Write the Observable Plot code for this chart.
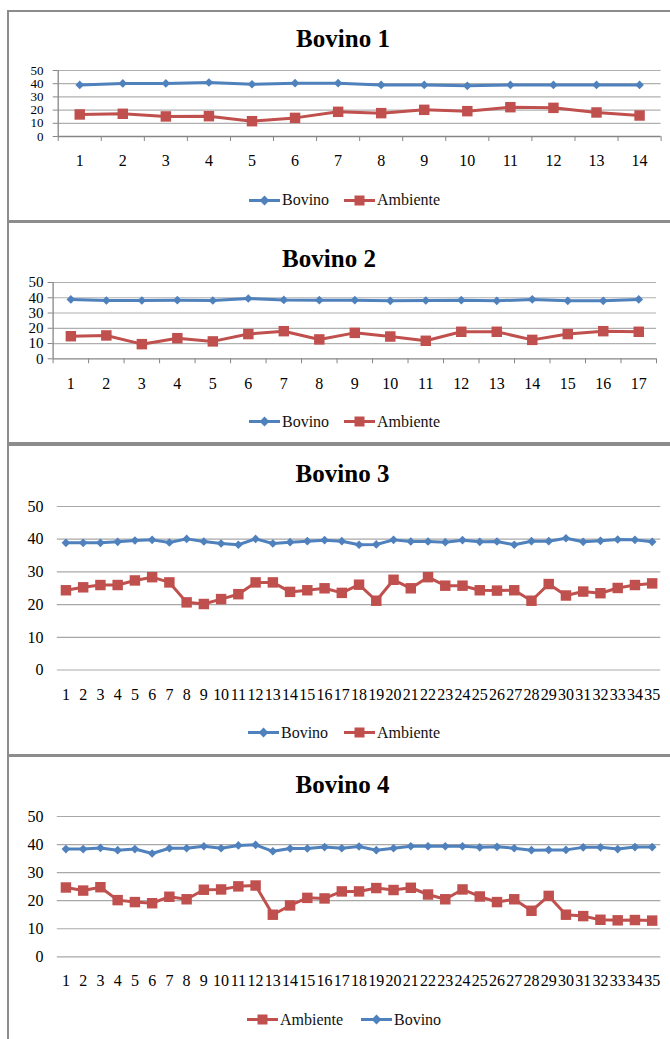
<!DOCTYPE html>
<html><head><meta charset="utf-8">
<script src="https://cdn.jsdelivr.net/npm/d3@7"></script>
<script src="https://cdn.jsdelivr.net/npm/@observablehq/plot@0.6"></script>
<style>
body{margin:0;background:#fff;}
#page{position:relative;width:670px;height:1039px;overflow:hidden;font-family:"Liberation Serif",serif;color:#000;}
.box{position:absolute;left:7px;width:680px;border:2px solid #8c8c8c;box-sizing:border-box;}
.title{position:absolute;font-weight:bold;font-size:25px;line-height:1;transform:translate(-50%,-50%);white-space:nowrap;font-family:"Liberation Serif",serif;}
.legitem{position:absolute;display:flex;align-items:center;font-size:16px;line-height:1;transform:translateY(-50%);white-space:nowrap;color:#111;font-family:"Liberation Serif",serif;}
.legitem svg{margin-right:2px;}
.plot{position:absolute;left:0;}
.plot text{font-family:"Liberation Serif",serif !important;}
</style></head><body><div id="page"></div>
<script>
// ---- data ----
const cats1 = d3.range(1, 15);
const cats2 = d3.range(1, 18);
const cats3 = d3.range(1, 36);
const cats4 = d3.range(1, 36);
const yTicks = [0, 10, 20, 30, 40, 50];

const bovino1   = [39.1, 40.2, 40.2, 40.9, 39.6, 40.4, 40.4, 39.1, 39.1, 38.4, 39.1, 39.1, 39.1, 39.1];
const ambiente1 = [16.7, 17.2, 15.2, 15.4, 11.6, 14.1, 18.7, 17.7, 20.2, 19.2, 22.2, 21.7, 18.2, 15.9];

const bovino2   = [38.9, 38.2, 38.2, 38.4, 38.2, 39.5, 38.6, 38.4, 38.4, 38.0, 38.2, 38.4, 38.0, 38.9, 38.0, 38.0, 38.9];
const ambiente2 = [14.8, 15.3, 9.6, 13.5, 11.4, 16.2, 18.1, 12.7, 17.0, 14.6, 11.8, 17.7, 17.7, 12.4, 16.2, 18.1, 17.7];

const bovino3   = [38.9, 38.9, 38.9, 39.2, 39.6, 39.8, 39.0, 40.1, 39.3, 38.7, 38.3, 40.1, 38.7, 39.1, 39.4, 39.7, 39.4, 38.3,
                   38.4, 39.8, 39.3, 39.3, 39.1, 39.7, 39.2, 39.3, 38.3, 39.4, 39.4, 40.3, 39.2, 39.5, 39.9, 39.8, 39.2];
const ambiente3 = [24.4, 25.3, 26.0, 26.0, 27.4, 28.4, 26.8, 20.7, 20.2, 21.7, 23.2, 26.8, 26.8, 23.9, 24.4, 25.0, 23.6, 26.1,
                   21.2, 27.6, 25.0, 28.4, 25.8, 25.8, 24.4, 24.3, 24.4, 21.2, 26.3, 22.8, 24.0, 23.5, 25.1, 26.0, 26.5];

const bovino4   = [38.4, 38.4, 38.8, 38.0, 38.4, 36.8, 38.7, 38.7, 39.4, 38.7, 39.7, 39.9, 37.6, 38.6, 38.6, 39.1, 38.7, 39.3,
                   38.0, 38.7, 39.4, 39.4, 39.4, 39.4, 39.0, 39.2, 38.7, 38.0, 38.1, 38.1, 39.0, 39.0, 38.4, 39.1, 39.1];
const ambiente4 = [24.7, 23.6, 24.8, 20.2, 19.5, 19.1, 21.4, 20.5, 23.9, 24.0, 25.1, 25.4, 15.0, 18.3, 21.0, 20.8, 23.3, 23.3,
                   24.5, 23.8, 24.6, 22.2, 20.5, 24.0, 21.5, 19.5, 20.5, 16.4, 21.7, 15.0, 14.5, 13.2, 13.0, 13.1, 12.9];

// ---- styles / layout ----
const BLUE = "#4F81BD", RED = "#C0504D";
const FONT = '"Liberation Serif", serif';

const panels = [
  {title:"Bovino 1", cats:cats1, bov:bovino1, amb:ambiente1, boxTop:10, boxBottom:222, titleX:343, titleY:38,
   y50:70, y0:136, xl:57.7, xr:660.6, labelY:160, legendY:200, legend:[["Bovino",249],["Ambiente",344]], framed:true, yFont:13},
  {title:"Bovino 2", cats:cats2, bov:bovino2, amb:ambiente2, boxTop:221, boxBottom:444, titleX:329, titleY:258,
   y50:281.7, y0:358, xl:52.6, xr:656, labelY:383, legendY:421.7, legend:[["Bovino",249],["Ambiente",344]], framed:true, yFont:15},
  {title:"Bovino 3", cats:cats3, bov:bovino3, amb:ambiente3, boxTop:444, boxBottom:756, titleX:342.5, titleY:473,
   y50:505.7, y0:669.3, xl:56.8, xr:660.3, labelY:694, legendY:732.7, legend:[["Bovino",248],["Ambiente",344]], framed:false, yFont:16, zeroLight:true},
  {title:"Bovino 4", cats:cats4, bov:bovino4, amb:ambiente4, boxTop:755, boxBottom:1060, titleX:342.5, titleY:784,
   y50:816, y0:956.3, xl:56.8, xr:660.3, labelY:980.3, legendY:1019.7, legend:[["Ambiente",247],["Bovino",361]], framed:false, yFont:16}
];

const page = document.getElementById("page");

function swatch(name){
  const c = name === "Bovino" ? BLUE : RED;
  const m = name === "Bovino"
    ? `<rect x="12" y="2" width="7" height="7" fill="${c}" transform="rotate(45 15.5 5.5)"/>`
    : `<rect x="10.5" y="0.5" width="10" height="10" fill="${c}"/>`;
  return `<svg width="31" height="11" viewBox="0 0 31 11"><line x1="0" y1="5.5" x2="31" y2="5.5" stroke="${c}" stroke-width="3"/>${m}</svg>`;
}

for (const p of panels) {
  const box = document.createElement("div");
  box.className = "box";
  box.style.top = p.boxTop + "px";
  box.style.height = (p.boxBottom - p.boxTop) + "px";
  page.appendChild(box);

  const N = p.cats.length;
  const rows = p.cats.map((c, i) => ({x: i + 1, label: c, bovino: p.bov[i], ambiente: p.amb[i]}));
  const bounds = d3.range(0, N + 1).map(i => i + 0.5);
  const mt = 10, mb = 40;
  const plotH = p.y0 - p.y50;
  const tickSize = p.framed ? 5 : 0;
  const gridColor = p.framed ? "#b0b0b0" : "#a8a8a8";
  const axisColor = "#868686";

  const marks = [
    Plot.ruleY(yTicks.filter(v => v > 0), {y: d => d, stroke: gridColor, strokeWidth: 1.2}),
  ];
  if (p.framed) {
    marks.push(Plot.ruleY([0], {stroke: axisColor, strokeWidth: 1.3}));
    marks.push(Plot.ruleX([0.5], {y1: 0, y2: 50, stroke: axisColor, strokeWidth: 1.3}));
    marks.push(Plot.axisX(bounds, {tickSize: 5, tickFormat: () => "", stroke: axisColor, label: null}));
  } else {
    marks.push(Plot.ruleY([0], {stroke: p.zeroLight ? "#d4d4d4" : gridColor, strokeWidth: p.zeroLight ? 2 : 1.2}));
  }
  marks.push(
    Plot.axisY(yTicks, {tickSize: tickSize, tickPadding: p.xl - tickSize - 43, fontSize: p.yFont, stroke: axisColor, fill: "#000", label: null}),
    Plot.axisX(rows.map(d => d.x), {tickSize: 0, tickPadding: p.labelY - p.y0 - 6, fontSize: 16, fill: "#000", label: null,
      tickFormat: v => String(p.cats[v - 1])}),
    Plot.line(rows, {x: "x", y: "bovino", stroke: BLUE, strokeWidth: 3}),
    Plot.dot(rows, {x: "x", y: "bovino", symbol: "diamond2", r: 3.9, fill: BLUE, stroke: "none"}),
    Plot.line(rows, {x: "x", y: "ambiente", stroke: RED, strokeWidth: 3}),
    Plot.dot(rows, {x: "x", y: "ambiente", symbol: "square", r: 5.9, fill: RED, stroke: "none"})
  );

  const svg = Plot.plot({
    width: 670,
    height: mt + plotH + mb,
    marginTop: mt, marginBottom: mb, marginLeft: p.xl, marginRight: 670 - p.xr,
    style: {fontFamily: FONT, background: "transparent", overflow: "visible"},
    x: {type: "linear", domain: [0.5, N + 0.5], label: null},
    y: {domain: [0, 50], label: null},
    marks
  });
  svg.classList.add("plot");
  svg.style.top = (p.y50 - mt) + "px";
  page.appendChild(svg);

  const t = document.createElement("div");
  t.className = "title";
  t.textContent = p.title;
  t.style.left = p.titleX + "px";
  t.style.top = p.titleY + "px";
  page.appendChild(t);

  for (const [name, lx] of p.legend) {
    const it = document.createElement("div");
    it.className = "legitem";
    it.style.left = lx + "px";
    it.style.top = p.legendY + "px";
    it.innerHTML = swatch(name) + `<span>${name}</span>`;
    page.appendChild(it);
  }
}
</script>
</body></html>
